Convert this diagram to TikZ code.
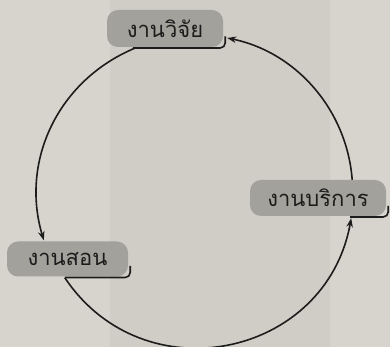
\documentclass[tikz,border=0pt]{standalone}
\usepackage{fontspec}
\newfontfamily\thaifont[Script=Thai]{Loma}
\usetikzlibrary{arrows.meta,positioning,calc}
\definecolor{paperGray}{HTML}{D6D4CC}
\definecolor{paperShade}{HTML}{CFCDC5}
\definecolor{boxGray}{HTML}{A3A19B}
\definecolor{lineInk}{HTML}{1C1C1C}
\tikzset{
  taskBox/.style={fill=boxGray, rounded corners=11pt, align=center, inner sep=0pt, font=\thaifont\fontsize{22}{24}\selectfont, text=lineInk},
  cycleArrow/.style={-{Stealth[length=9pt,width=6.5pt]}, line width=1.6pt, draw=lineInk},
  shadeLine/.style={line width=1.6pt, draw=lineInk, rounded corners=5pt}
}

\begin{document}
\begin{tikzpicture}[x=1pt,y=1pt]
  \fill[paperGray] (0,0) rectangle (390,347);
  \fill[paperShade] (110,0) rectangle (330,347);
  \useasboundingbox (0,0) rectangle (390,347);

  \node[taskBox, minimum width=116pt, minimum height=37pt] (research) at (165,318.5) {งานวิจัย};
  \node[taskBox, minimum width=136pt, minimum height=36pt] (service) at (318,149) {งานบริการ};
  \node[taskBox, minimum width=121pt, minimum height=35pt] (teaching) at (67.5,88) {งานสอน};

  % shadow edges under the boxes
  \draw[shadeLine] ([xshift=26pt,yshift=-0.8pt]research.south west) -| ([xshift=2pt,yshift=-8pt]research.east);
  \draw[shadeLine] ([xshift=-36pt,yshift=-0.8pt]service.south east) -| ([xshift=2pt,yshift=-8pt]service.east);
  \draw[shadeLine] ([xshift=58pt,yshift=-0.8pt]teaching.south west) -| ([xshift=2pt,yshift=-7pt]teaching.east);

  \draw[cycleArrow] ([xshift=28pt,yshift=-1pt]research.south west) to[bend right=42] ([xshift=37pt,yshift=1pt]teaching.north west);
  \draw[cycleArrow] ([xshift=58pt,yshift=-1pt]teaching.south west) to[bend right=68, looseness=1.24] ([xshift=-35pt,yshift=-2pt]service.south east);
  \draw[cycleArrow] ([xshift=-34pt]service.north east) to[bend right=37, looseness=0.95] ([xshift=4pt,yshift=-9.5pt]research.east);
\end{tikzpicture}
\end{document}
